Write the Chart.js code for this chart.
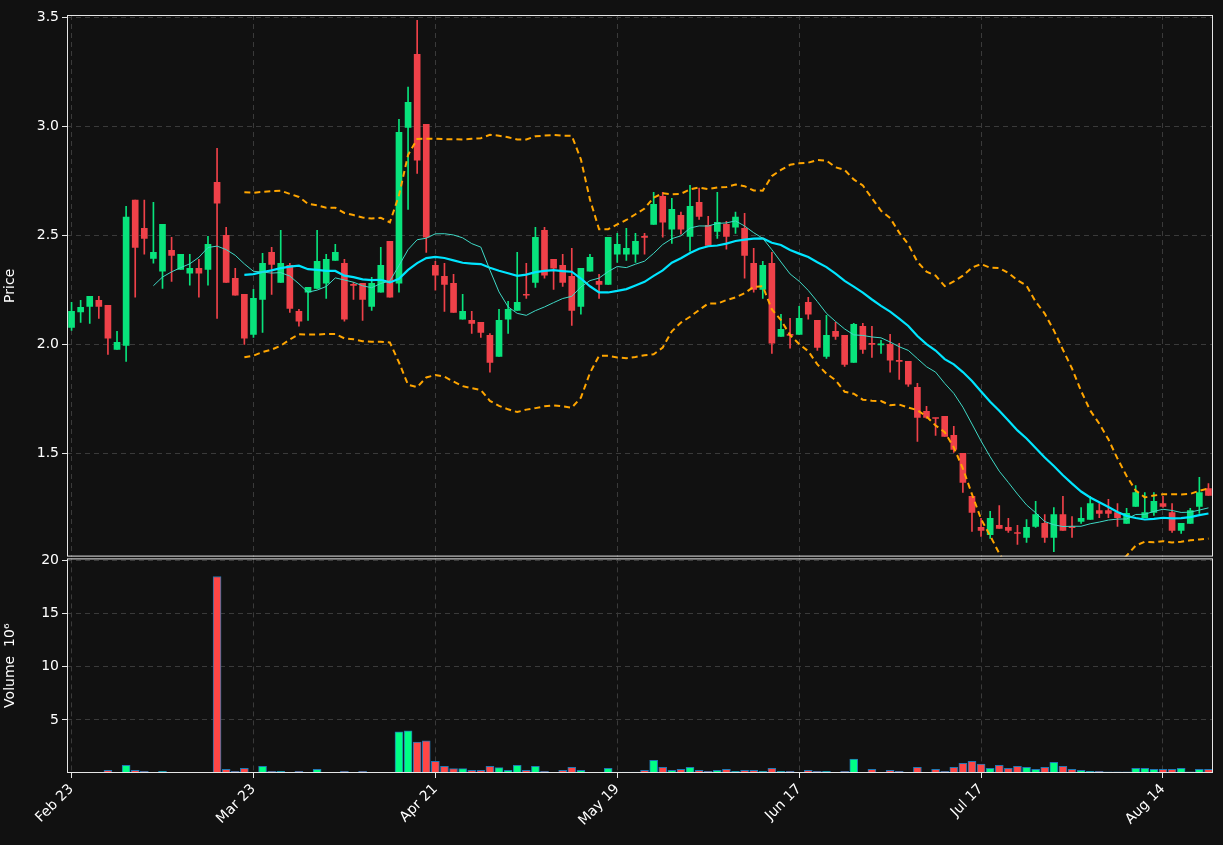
<!DOCTYPE html>
<html>
<head>
<meta charset="utf-8">
<script src="https://cdn.jsdelivr.net/npm/chart.js@4.4.0/dist/chart.umd.min.js"></script>
<style>
  body { margin: 0; background: #111111; overflow: hidden; }
  #wrapPrice { position: absolute; left: 0; top: 0; width: 1223px; height: 568px; }
  #wrapVol { position: absolute; left: 0; top: 547px; width: 1223px; height: 298px; }
</style>
</head>
<body>
<div id="wrapPrice"><canvas id="price"></canvas></div>
<div id="wrapVol"><canvas id="volume"></canvas></div>
<script>
// du lieu doc tu hinh (gia va khoi luong, 126 phien)
var opens = [2.078,2.149,2.174,2.202,2.179,1.977,1.995,2.661,2.532,2.394,2.335,2.431,2.344,2.326,2.349,2.344,2.743,2.500,2.303,2.229,
  2.046,2.206,2.422,2.284,2.362,2.151,2.239,2.257,2.280,2.385,2.372,2.275,2.280,2.174,2.239,2.472,2.280,2.995,3.330,3.009,
  2.362,2.312,2.280,2.115,2.110,2.101,2.041,1.945,2.115,2.156,2.229,2.284,2.523,2.390,2.362,2.312,2.174,2.335,2.289,2.275,
  2.413,2.413,2.413,2.495,2.550,2.679,2.528,2.592,2.495,2.651,2.546,2.518,2.550,2.537,2.532,2.372,2.252,2.372,2.037,2.046,
  2.046,2.193,2.110,1.945,2.060,2.041,1.917,2.083,2.002,1.997,2.000,1.924,1.922,1.803,1.693,1.662,1.670,1.583,1.500,1.303,
  1.161,1.128,1.170,1.161,1.135,1.115,1.165,1.179,1.115,1.220,1.163,1.188,1.197,1.238,1.238,1.229,1.179,1.257,1.206,1.229,
  1.270,1.229,1.147,1.179,1.257,1.339];
var highs = [2.193,2.202,2.220,2.220,2.179,2.060,2.633,2.661,2.661,2.651,2.550,2.491,2.413,2.413,2.390,2.495,2.899,2.537,2.349,2.229,
  2.252,2.417,2.445,2.523,2.372,2.161,2.261,2.523,2.413,2.459,2.390,2.284,2.280,2.307,2.445,2.472,3.032,3.179,3.486,3.009,
  2.381,2.372,2.321,2.229,2.151,2.101,2.050,2.161,2.197,2.422,2.372,2.537,2.537,2.390,2.413,2.440,2.349,2.413,2.321,2.491,
  2.509,2.532,2.509,2.509,2.697,2.697,2.670,2.606,2.729,2.716,2.587,2.697,2.564,2.606,2.601,2.440,2.381,2.422,2.138,2.119,
  2.174,2.216,2.110,2.133,2.101,2.041,2.096,2.096,2.083,2.018,2.046,2.005,1.922,1.821,1.716,1.662,1.670,1.624,1.500,1.303,
  1.202,1.234,1.261,1.202,1.170,1.197,1.280,1.220,1.252,1.303,1.211,1.252,1.303,1.270,1.289,1.270,1.248,1.353,1.321,1.321,
  1.303,1.270,1.179,1.248,1.390,1.362];
var lows = [2.064,2.101,2.096,2.119,1.954,1.977,1.922,2.216,2.413,2.372,2.257,2.289,2.344,2.271,2.216,2.271,2.119,2.284,2.225,2.000,
  2.032,2.055,2.229,2.284,2.147,2.083,2.110,2.257,2.211,2.385,2.106,2.206,2.110,2.156,2.239,2.216,2.239,2.619,2.784,2.422,
  2.248,2.151,2.147,2.115,2.050,2.032,1.872,1.945,2.050,2.156,2.211,2.261,2.303,2.252,2.266,2.087,2.138,2.335,2.211,2.275,
  2.376,2.385,2.376,2.413,2.550,2.491,2.463,2.505,2.427,2.573,2.454,2.486,2.436,2.509,2.303,2.239,2.211,1.959,2.037,1.982,
  2.046,2.115,1.972,1.936,2.023,1.899,1.917,1.959,1.940,1.959,1.872,1.839,1.807,1.555,1.661,1.583,1.578,1.505,1.321,1.142,
  1.119,1.110,1.156,1.138,1.083,1.092,1.161,1.092,1.050,1.147,1.115,1.179,1.197,1.206,1.206,1.165,1.179,1.257,1.206,1.216,
  1.252,1.138,1.133,1.179,1.225,1.307];
var closes = [2.151,2.170,2.220,2.174,2.028,2.009,2.583,2.445,2.486,2.422,2.550,2.408,2.413,2.349,2.326,2.459,2.647,2.284,2.225,2.028,
  2.211,2.372,2.367,2.372,2.165,2.106,2.261,2.381,2.390,2.422,2.115,2.270,2.206,2.280,2.362,2.216,2.972,3.110,2.844,2.491,
  2.317,2.275,2.147,2.151,2.096,2.055,1.917,2.110,2.161,2.193,2.225,2.491,2.317,2.349,2.284,2.156,2.349,2.399,2.275,2.491,
  2.459,2.440,2.472,2.490,2.642,2.560,2.619,2.528,2.633,2.587,2.454,2.560,2.495,2.583,2.408,2.252,2.362,2.005,2.069,2.041,
  2.119,2.138,1.986,2.041,2.037,1.908,2.092,1.977,2.000,2.002,1.927,1.922,1.817,1.665,1.665,1.660,1.578,1.518,1.367,1.229,
  1.147,1.202,1.156,1.147,1.133,1.161,1.220,1.115,1.220,1.147,1.160,1.202,1.270,1.225,1.225,1.206,1.225,1.321,1.229,1.280,
  1.257,1.147,1.179,1.238,1.321,1.307];
var volumes = [0.03,0.05,0.03,0.03,0.25,0.05,0.73,0.25,0.15,0.05,0.15,0.05,0.03,0.03,0.03,0.03,18.5,0.35,0.15,0.45,
  0.05,0.63,0.15,0.15,0.05,0.15,0.05,0.35,0.05,0.05,0.15,0.05,0.15,0.03,0.03,0.03,3.87,3.97,2.92,3.02,
  1.11,0.63,0.41,0.41,0.25,0.25,0.63,0.5,0.25,0.73,0.25,0.63,0.15,0.05,0.25,0.54,0.25,0.05,0.05,0.45,
  0.08,0.08,0.08,0.25,1.2,0.54,0.25,0.35,0.54,0.25,0.15,0.25,0.35,0.15,0.25,0.25,0.15,0.45,0.15,0.15,
  0.03,0.25,0.15,0.15,0.03,0.15,1.3,0.03,0.35,0.03,0.25,0.15,0.03,0.54,0.03,0.35,0.15,0.54,0.92,1.11,
  0.83,0.45,0.73,0.45,0.63,0.54,0.35,0.54,1.0,0.63,0.35,0.25,0.15,0.15,0.1,0.1,0.1,0.45,0.45,0.35,
  0.35,0.35,0.45,0.1,0.35,0.35];
var tickLabels = ['Feb 23','Mar 23','Apr 21','May 19','Jun 17','Jul 17','Aug 14'];
var tickPos = [0,20,40,60,80,100,120];

var UP = '#08e37c', DOWN = '#ef4149', VUP = '#00ff85', VDOWN = '#ff4646';
var FONT = { family: 'DejaVu Sans', size: 14 };

function maLine(n) {
    var out = [];
    for (var i = 0; i < closes.length; i++) {
        if (i < n - 1) { out.push(null); continue; }
        var s = 0;
        for (var k = i - n + 1; k <= i; k++) s += closes[k];
        out.push(s / n);
    }
    return out;
}
function bollinger(n, m, sign) {
    var out = [];
    for (var i = 0; i < closes.length; i++) {
        if (i < n - 1) { out.push(null); continue; }
        var s = 0, q = 0;
        for (var k = i - n + 1; k <= i; k++) s += closes[k];
        var mean = s / n;
        for (var k = i - n + 1; k <= i; k++) q += (closes[k] - mean) * (closes[k] - mean);
        out.push(mean + sign * m * Math.sqrt(q / (n - 1)));
    }
    return out;
}

var labels = [], wicks = [], bodies = [], cCol = [], vCol = [];
for (var i = 0; i < closes.length; i++) {
    var up = closes[i] >= opens[i];
    labels.push(String(i));
    wicks.push([lows[i], highs[i]]);
    bodies.push([opens[i], closes[i]]);
    cCol.push(up ? UP : DOWN);
    vCol.push(up ? VUP : VDOWN);
}

var frame = {
    id: 'frame',
    afterDraw: function (chart) {
        var a = chart.chartArea, c = chart.ctx;
        c.save();
        c.strokeStyle = '#e6e6e6';
        c.lineWidth = 1;
        c.strokeRect(a.left + 0.5, a.top + 0.5, a.right - a.left - 1, a.bottom - a.top - 1);
        c.restore();
    }
};

function xScale(showLabels) {
    return {
        type: 'category', offset: true,
        afterBuildTicks: function (s) { s.ticks = tickPos.map(function (v) { return { value: v }; }); },
        afterFit: function (s) { if (showLabels) s.height = 72; },
        grid: { color: '#3a3a3a', offset: false, tickLength: 5, tickColor: '#e6e6e6', drawTicks: showLabels },
        border: { display: false, dash: [5, 4] },
        ticks: {
            display: showLabels, color: '#ffffff', font: FONT, maxRotation: 45, minRotation: 45, autoSkip: false,
            callback: function (v) { return tickLabels[tickPos.indexOf(v)]; }
        }
    };
}

Chart.defaults.animation = false;
Chart.defaults.font.family = 'DejaVu Sans';

new Chart(document.getElementById('price'), {
    type: 'bar',
    data: {
        labels: labels,
        datasets: [
            { type: 'line', data: bollinger(20, 2, 1), borderColor: '#ffa500', borderWidth: 2, borderDash: [6, 4], pointRadius: 0 },
            { type: 'line', data: bollinger(20, 2, -1), borderColor: '#ffa500', borderWidth: 2, borderDash: [6, 4], pointRadius: 0 },
            { type: 'line', data: maLine(10), borderColor: '#3fd9c6', borderWidth: 1, pointRadius: 0 },
            { type: 'line', data: maLine(20), borderColor: '#00e5ff', borderWidth: 2.2, pointRadius: 0 },
            { data: wicks, backgroundColor: cCol, barThickness: 1, grouped: false, order: 5 },
            { data: bodies, backgroundColor: cCol, barThickness: 6, grouped: false, minBarLength: 1, order: 4 }
        ]
    },
    options: {
        responsive: true, maintainAspectRatio: false,
        layout: { padding: { top: 15, right: 10, left: 0, bottom: 0 } },
        plugins: { legend: { display: false }, tooltip: { enabled: false } },
        scales: {
            x: xScale(false),
            y: {
                min: 1.027, max: 3.51,
                afterBuildTicks: function (s) { s.ticks = [1.5, 2.0, 2.5, 3.0, 3.5].map(function (v) { return { value: v }; }); },
                afterFit: function (s) { s.width = 67; },
                grid: { color: '#3a3a3a', tickColor: '#e6e6e6', tickLength: 5 },
                border: { display: false, dash: [5, 4] },
                ticks: { color: '#ffffff', font: FONT, callback: function (v) { return v.toFixed(1); } },
                title: { display: true, text: 'Price', color: '#ffffff', font: FONT, padding: 2 }
            }
        }
    },
    plugins: [frame]
});

new Chart(document.getElementById('volume'), {
    type: 'bar',
    data: {
        labels: labels,
        datasets: [
            { data: volumes, backgroundColor: vCol, borderColor: '#1f77b4', borderWidth: 1, barThickness: 8 }
        ]
    },
    options: {
        responsive: true, maintainAspectRatio: false,
        layout: { padding: { top: 1, right: 10, left: 0, bottom: 0 } },
        plugins: { legend: { display: false }, tooltip: { enabled: false } },
        scales: {
            x: xScale(true),
            y: {
                min: 0, max: 20.2,
                afterBuildTicks: function (s) { s.ticks = [5, 10, 15, 20].map(function (v) { return { value: v }; }); },
                afterFit: function (s) { s.width = 67; },
                grid: { color: '#3a3a3a', tickColor: '#e6e6e6', tickLength: 5 },
                border: { display: false, dash: [5, 4] },
                ticks: { color: '#ffffff', font: FONT },
                title: { display: true, text: 'Volume  10\u2076', color: '#ffffff', font: FONT, padding: 2 }
            }
        }
    },
    plugins: [frame]
});
</script>
</body>
</html>
